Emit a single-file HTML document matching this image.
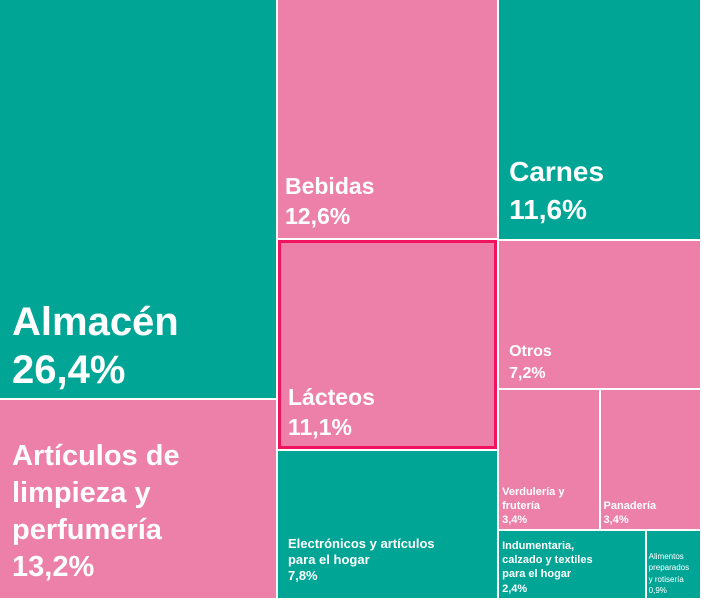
<!DOCTYPE html>
<html><head><meta charset="utf-8">
<style>
html,body{margin:0;padding:0;background:#fff;}
#chart{position:relative;width:702px;height:600px;overflow:hidden;background:#fff;font-family:"Liberation Sans",Arial,sans-serif;}
.cell{position:absolute;box-sizing:border-box;display:flex;flex-direction:column;justify-content:flex-end;color:#fff;font-weight:bold;}
.cell span{display:block;white-space:nowrap;}
</style></head>
<body>
<div id="chart"></div>
<script>
// Data
const categories = ["Almacén","Artículos de limpieza y perfumería","Bebidas","Lácteos","Electrónicos y artículos para el hogar","Carnes","Otros","Verdulería y frutería","Panadería","Indumentaria, calzado y textiles para el hogar","Alimentos preparados y rotisería"];
const shares = [26.4,13.2,12.6,11.1,7.8,11.6,7.2,3.4,3.4,2.4,0.9];
const valueLabels = ["26,4%","13,2%","12,6%","11,1%","7,8%","11,6%","7,2%","3,4%","3,4%","2,4%","0,9%"];
const labelLines = [["Almacén"],["Artículos de","limpieza y","perfumería"],["Bebidas"],["Lácteos"],["Electrónicos y artículos","para el hogar"],["Carnes"],["Otros"],["Verdulería y","frutería"],["Panadería"],["Indumentaria,","calzado y textiles","para el hogar"],["Alimentos","preparados","y rotisería"]];
// structure: columns -> rows -> item indices
const layout = [[[0],[1]],[[2],[3],[4]],[[5],[6],[7,8],[9,10]]];
const colors = ["#00a596","#ec80a8","#ec80a8","#ec80a8","#00a596","#00a596","#ec80a8","#ec80a8","#ec80a8","#00a596","#00a596"];
const fontSizes = [40,29,23,23,13,28,16,11,11,11,8];
const padBottom = [4,12,6,4,14,10,4,2,2,2,2];
const padLeft = [12,12,7,7,10,10,10,3,3,3,2];
const lineHeights = [1.2,1.28,1.3,1.3,1.22,1.35,1.35,1.3,1.3,1.3,1.4];

const W = 702, H = 600, GAP = 2;
const chart = document.getElementById('chart');
const total = shares.reduce((a,b)=>a+b,0);
let x = 0;
layout.forEach(col => {
  const colSum = col.flat().reduce((s,i)=>s+shares[i],0);
  const cw = colSum/total*W;
  let y = 0;
  col.forEach(row => {
    const rowSum = row.reduce((s,i)=>s+shares[i],0);
    const rh = rowSum/colSum*H;
    let rx = x;
    row.forEach(i => {
      const w = shares[i]/rowSum*cw;
      const el = document.createElement('div');
      el.className = 'cell';
      
      
      el.style.left = (rx) + 'px';
      el.style.top = (y) + 'px';
      el.style.width = (w - GAP) + 'px';
      el.style.height = (rh - GAP) + 'px';
      el.style.background = colors[i];
      el.style.fontSize = fontSizes[i] + 'px';
      el.style.lineHeight = lineHeights[i];
      el.style.padding = '0 0 ' + padBottom[i] + 'px ' + padLeft[i] + 'px';
      if (i === 3) { el.style.border = '3px solid #f0145e'; }
      if (i === 10) { el.style.fontWeight = 'normal'; }
      labelLines[i].forEach(t => {
        const s = document.createElement('span');
        
        
        s.textContent = t;
        el.appendChild(s);
      });
      const v = document.createElement('span');
      
      
      v.textContent = valueLabels[i];
      el.appendChild(v);
      chart.appendChild(el);
      rx += w;
    });
    y += rh;
  });
  x += cw;
});
</script>
</body></html>
